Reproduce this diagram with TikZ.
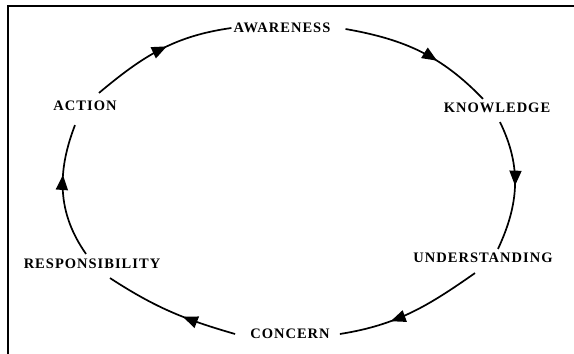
\documentclass[tikz,border=0pt]{standalone}
\usepackage{fontspec}
\newfontfamily\stagefont{Liberation Serif}[LetterSpace=7]
\usetikzlibrary{arrows.meta,decorations.markings}

\begin{document}
\begin{tikzpicture}[
  x=1pt, y=1pt,
  >={Triangle[length=15pt,width=12pt]},
  stage/.style={font=\stagefont\bfseries\fontsize{14.5}{17}\selectfont, inner sep=2pt},
  flowline/.style={line width=1.7pt, postaction={decorate},
    decoration={markings, mark=at position #1 with {\arrow{>}}}}
]
  \useasboundingbox (0,0) rectangle (574,354);
  % frame, only top and left edge are printed
  \draw[line width=1.6pt] (8,0) -- (8,348) -- (574,348);

  \node[stage] (aware)   at (282,326) {AWARENESS};
  \node[stage] (know)    at (497,246) {KNOWLEDGE};
  \node[stage] (under)   at (483,96)  {UNDERSTANDING};
  \node[stage] (concern) at (290,20)  {CONCERN};
  \node[stage] (resp)    at (92,90)   {RESPONSIBILITY};
  \node[stage] (act)     at (85,248)  {ACTION};

  \draw[flowline=0.55] ([shift={(14,6)}]act.north) to[out=40,in=188] (aware.west);
  \draw[flowline=0.62] ([shift={(13,-1)}]aware.east) to[out=-10,in=134] ([shift={(-14,2)}]know.north);
  \draw[flowline=0.5] ([shift={(3,-7)}]know.south) to[out=-64,in=65] ([shift={(15,2)}]under.north);
  \draw[flowline=0.65] ([shift={(-8,-8)}]under.south) to[out=215,in=9] ([shift={(8,0)}]concern.east);
  \draw[flowline=0.4] ([shift={(-13,0)}]concern.west) to[out=164,in=-33] ([shift={(18,-7)}]resp.south);
  \draw[flowline=0.62] ([shift={(-6,3)}]resp.north) to[out=125,in=-111] ([shift={(-10,-12)}]act.south);
\end{tikzpicture}
\end{document}
